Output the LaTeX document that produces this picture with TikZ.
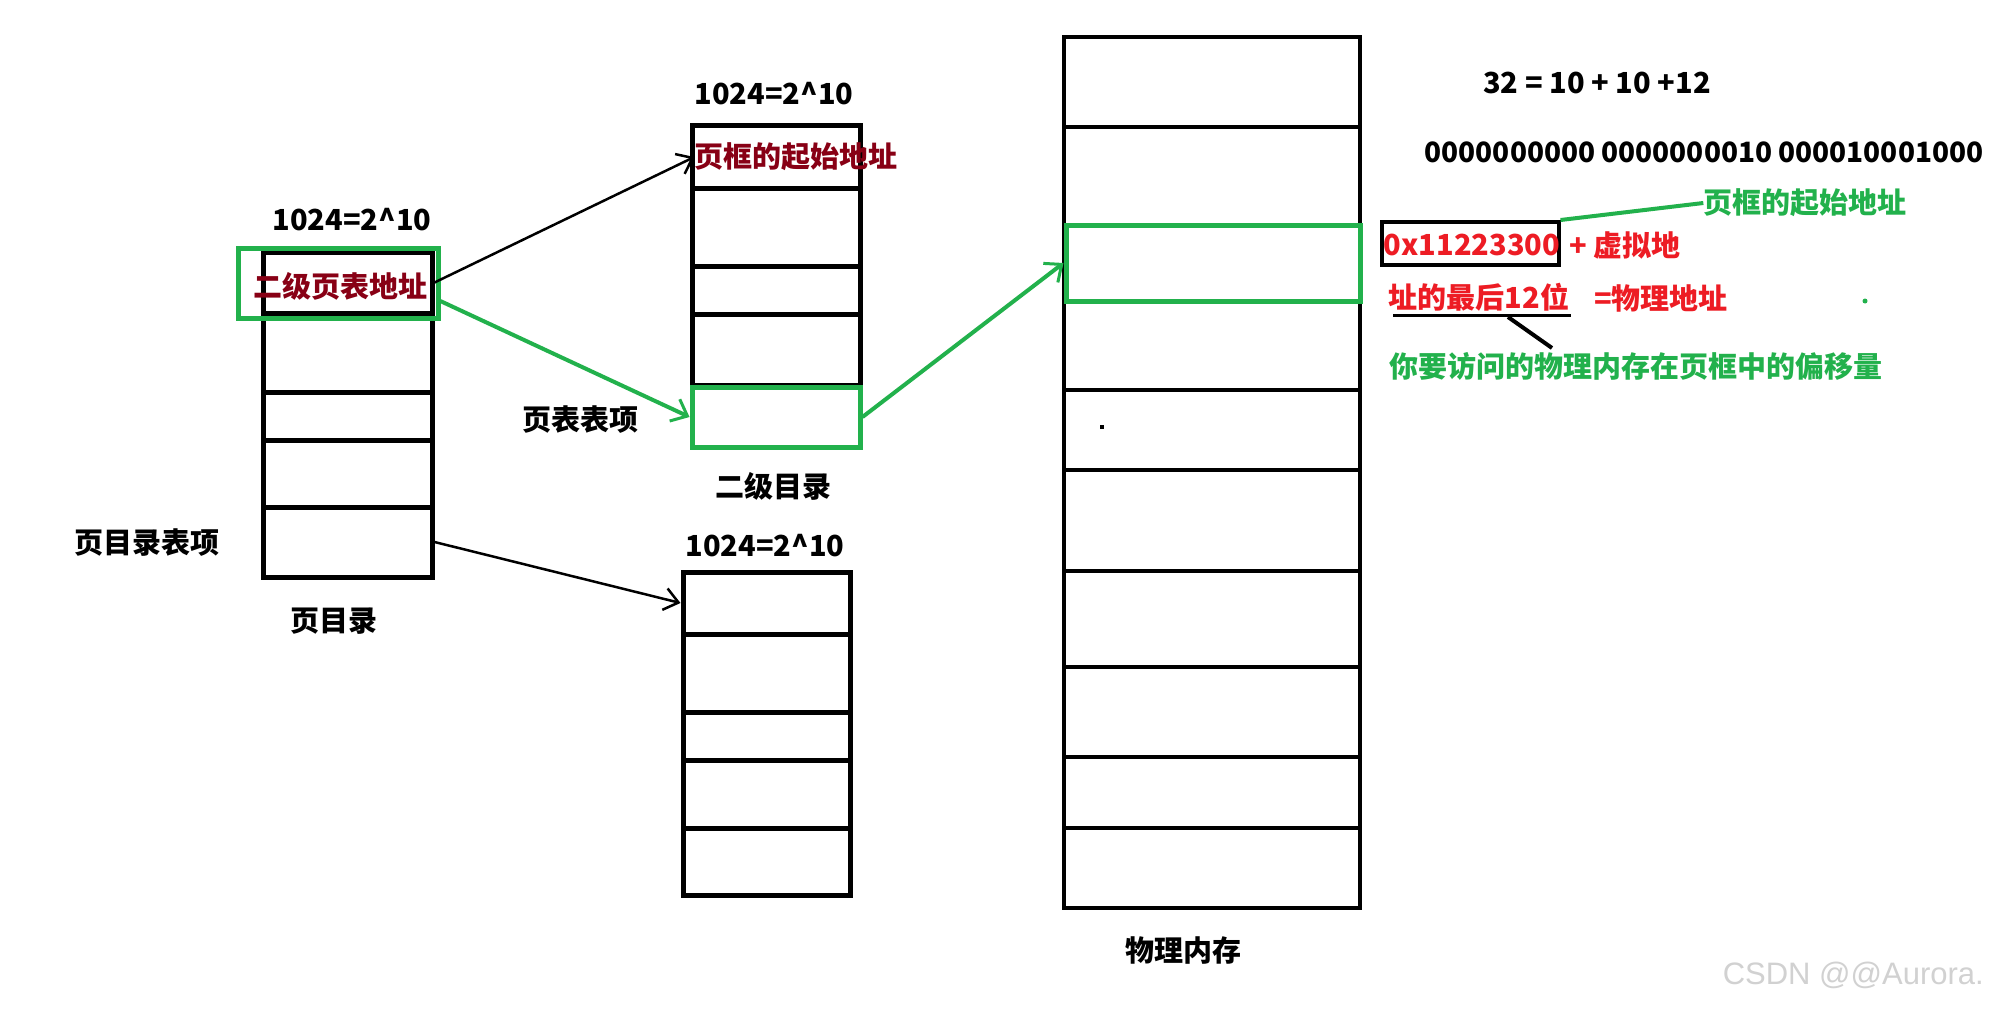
\documentclass[tikz,border=0pt]{standalone}
\usepackage{fontspec}
\setmainfont{Noto Sans CJK SC}
\newfontfamily\wmfont{Liberation Sans}
\usetikzlibrary{arrows.meta}
\definecolor{pdred}{HTML}{880015}
\definecolor{pgreen}{HTML}{22B14C}
\definecolor{pred}{HTML}{ED1C24}

\begin{document}
\begin{tikzpicture}[x=1pt, y=-1pt,
    lbl/.style={font=\fontsize{29}{34}\selectfont\bfseries, inner sep=0pt},
    cell/.style={draw, line width=5pt, inner sep=0pt, minimum width=#1},
    selbox/.style={draw=pgreen, line width=5pt, inner sep=0pt},
    blackarrow/.style={line width=2.5pt, -{Straight Barb[length=14pt,width=22pt,line width=2.5pt]}},
    greenarrow/.style={pgreen, line width=4pt, -{Straight Barb[length=14pt,width=24pt,line width=3pt]}}]

    % page size and white background
    \useasboundingbox (0,0) rectangle (1991,1010);
    \fill[white] (0,0) rectangle (1991,1010);

    % page directory
    \node[lbl] (pdsize) at (352,220) {1024=2\textasciicircum 10};
    \foreach \n/\ya/\yb in {1/252/313,2/313/392,3/392/440,4/440/507,5/507/577}
        \node[cell=169pt, minimum height={(\yb-\ya)*1pt}] (pd\n) at (347.5,{(\ya+\yb)/2}) {};
    \node[selbox, minimum width=200pt, minimum height=70pt] (pdsel) at (338,283) {};
    \node[lbl, text=pdred] (pdaddr) at (340,286) {二级页表地址};
    \node[lbl] (pdentry) at (147,543) {页目录表项};
    \node[lbl] (pdname) at (334,621) {页目录};

    % second level page table
    \node[lbl] (ptsize) at (774,94) {1024=2\textasciicircum 10};
    \foreach \n/\ya/\yb in {1/125/188,2/188/266,3/266/314,4/314/385,5/385/447}
        \node[cell=168pt, minimum height={(\yb-\ya)*1pt}] (pt\n) at (776,{(\ya+\yb)/2}) {};
    \node[selbox, minimum width=168pt, minimum height=60pt] (ptsel) at (776,417) {};
    \node[lbl, text=pdred] (ptaddr) at (796,157) {页框的起始地址};
    \node[lbl] (ptentry) at (580,420) {页表表项};
    \node[lbl] (ptname) at (773,486) {二级目录};

    % another second level page table
    \node[lbl] (tbsize) at (765,546) {1024=2\textasciicircum 10};
    \foreach \n/\ya/\yb in {1/572/634,2/634/712,3/712/760,4/760/828,5/828/895}
        \node[cell=167pt, minimum height={(\yb-\ya)*1pt}] (tb\n) at (766.5,{(\ya+\yb)/2}) {};

    % physical memory
    \foreach \n/\ya/\yb in {1/37/127,2/127/225,3/225/301,4/301/390,5/390/470,
                            6/470/571,7/571/667,8/667/757,9/757/828,10/828/908}
        \node[cell=296pt, line width=4pt, minimum height={(\yb-\ya)*1pt}] (pm\n) at (1212,{(\ya+\yb)/2}) {};
    \node[selbox, minimum width=294pt, minimum height=76pt] (pmsel) at (1213,263) {};
    \fill (1100,425) rectangle (1104,429);
    \node[lbl] (pmname) at (1183,950) {物理内存};

    % connectors
    \draw[blackarrow] (pd1.east) -- (ptaddr.west);
    \draw[greenarrow] (pdsel.-10) -- (ptsel.west);
    \draw[greenarrow] (ptsel.east) -- (pmsel.west);
    \draw[blackarrow] (pd5.east) -- (tb1.west);

    % address split on the right
    \node[lbl] (split) at (1597,83) {32 = 10 + 10 +12};
    \node[lbl, font=\fontsize{28}{34}\selectfont\bfseries] (bits) at (1704,152) {0000000000 0000000010 000010001000};
    \node[lbl, text=pgreen] (frame) at (1805,203) {页框的起始地址};
    \node[draw, line width=4pt, minimum width=177pt, minimum height=43pt] (addrbox) at (1470,243.5) {};
    \node[lbl, text=pred] (addr) at (1472,245) {0x11223300};
    \node[lbl, text=pred] (plus) at (1625,245) {+ 虚拟地};
    \node[lbl, text=pred] (offset) at (1479,297) {址的最后12位};
    \node[lbl, text=pred] (phys) at (1661,298) {=物理地址};
    \node[lbl, text=pgreen] (note) at (1636,366) {你要访问的物理内存在页框中的偏移量};
    \fill[pgreen] (1865,301) circle (2.5pt);
    \draw[pgreen, line width=4pt] (addrbox.north east) -- (frame.west);
    \coordinate (ulleft) at (1393,315);
    \coordinate (ulright) at (1571,315);
    \coordinate (ulmid) at (1508,317);
    \coordinate (notetop) at (1552,348);
    \draw[line width=3pt] (ulleft) -- (ulright);
    \draw[line width=4pt] (ulmid) -- (notetop);

    % watermark
    \node[font=\wmfont\fontsize{31}{36}\selectfont, text=black!18, inner sep=0pt, anchor=east] (mark) at (1984,975) {CSDN @@Aurora.};
\end{tikzpicture}
\end{document}
